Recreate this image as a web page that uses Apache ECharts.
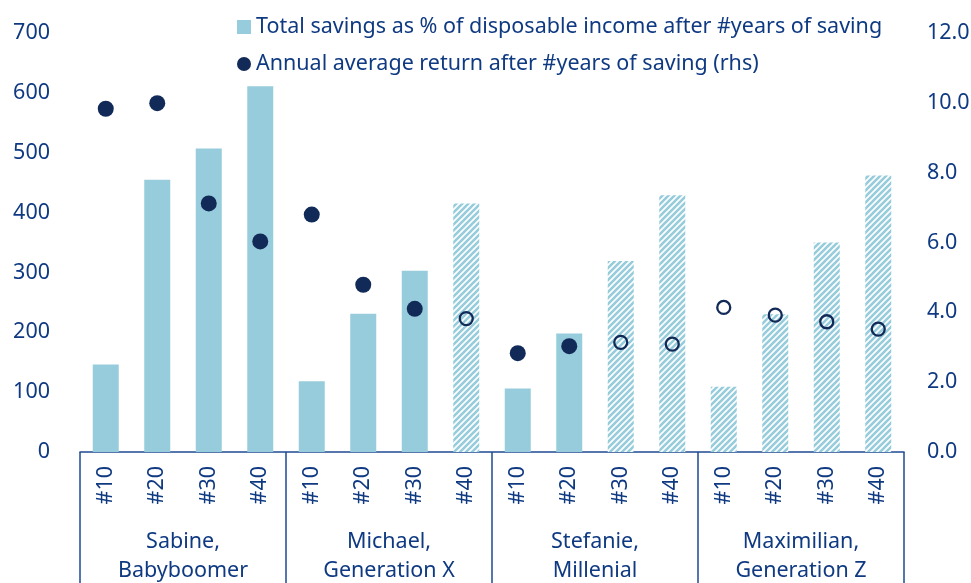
<!DOCTYPE html>
<html><head><meta charset="utf-8">
<script src="https://cdn.jsdelivr.net/npm/echarts@6/dist/echarts.min.js"></script>
<style>html,body{margin:0;padding:0;background:#fff}#c{width:971px;height:583px}</style>
</head><body><div id="c"></div>
<script>
const categories = ['#10','#20','#30','#40','#10','#20','#30','#40','#10','#20','#30','#40','#10','#20','#30','#40'];
const groups = ['Sabine,\nBabyboomer','Michael,\nGeneration X','Stefanie,\nMillenial','Maximilian,\nGeneration Z'];
const savings = [146,455,507,611, 118,231,303,415, 106,198,319,429, 109,230,350,462];
const returns = [9.83,9.99,7.12,6.03, 6.80,4.79,4.10,3.82, 2.83,3.03,3.14,3.09, 4.14,3.92,3.73,3.52];
const projected = [0,0,0,0, 0,0,0,1, 0,0,1,1, 1,1,1,1];
const barName = 'Total savings as % of disposable income after #years of saving';
const dotName = 'Annual average return after #years of saving (rhs)';

const BAR = '#96CCDB', NAVY = '#122A58', TXT = '#0F3A82', AXIS = '#1E4B93';
const FONT = 'Noto Sans';
const FS = 21.5;

// hatch pattern
const tile = document.createElement('canvas');
tile.width = 6; tile.height = 6;
const g = tile.getContext('2d');
g.fillStyle = '#fff'; g.fillRect(0,0,6,6);
g.strokeStyle = BAR; g.lineWidth = 2.6;
g.beginPath();
g.moveTo(-1,7); g.lineTo(7,-1);
g.moveTo(-4,4); g.lineTo(4,-4);
g.moveTo(2,10); g.lineTo(10,2);
g.stroke();
const hatch = {image: tile, repeat: 'repeat'};

const barData = savings.map((v,i)=> projected[i] ? {value:v, itemStyle:{color:hatch}} : v);
const dotData = returns.map((v,i)=> projected[i]
  ? {value:v, symbolSize:13, itemStyle:{color:'rgba(0,0,0,0)', borderColor:NAVY, borderWidth:2.3, opacity:1}}
  : {value:v, symbolSize:16});

const chart = echarts.init(document.getElementById('c'), null, {renderer:'canvas'});
chart.setOption({
  animation:false,
  textStyle:{fontFamily:FONT},
  grid:{left:80, right:67, top:33, bottom:131, containLabel:false, outerBoundsMode:'none'},
  legend:{
    orient:'vertical', left:232, top:10, itemGap:13, itemWidth:14, itemHeight:14,
    textStyle:{color:TXT, fontSize:FS, fontFamily:FONT, lineHeight:24},
    data:[{name:barName, icon:'rect'},{name:dotName, icon:'circle'}]
  },
  xAxis:[
    {type:'category', data:categories, position:'bottom',
     axisLine:{show:true, lineStyle:{color:AXIS, width:1.5}},
     axisTick:{show:false},
     axisLabel:{rotate:90, color:TXT, fontSize:FS, margin:14, interval:0, fontFamily:FONT}},
    {type:'category', data:groups, position:'bottom', offset:0,
     axisLine:{show:false},
     axisTick:{show:true, length:160, interval:0, lineStyle:{color:AXIS, width:1.5}},
     axisLabel:{color:TXT, fontSize:FS, margin:75, lineHeight:29, interval:0, fontFamily:FONT}}
  ],
  yAxis:[
    {type:'value', min:0, max:700, interval:100, position:'left',
     axisLine:{show:false}, axisTick:{show:false}, splitLine:{show:false},
     axisLabel:{color:TXT, fontSize:FS, margin:30, fontFamily:FONT}},
    {type:'value', min:0, max:12, interval:2, position:'right',
     axisLine:{show:false}, axisTick:{show:false}, splitLine:{show:false},
     axisLabel:{color:TXT, fontSize:FS, margin:23, fontFamily:FONT, formatter:v=>v.toFixed(1)}}
  ],
  series:[
    {name:barName, type:'bar', xAxisIndex:0, yAxisIndex:0, data:barData, barWidth:26,
     itemStyle:{color:BAR}},
    {name:dotName, type:'scatter', xAxisIndex:0, yAxisIndex:1, data:dotData, symbol:'circle',
     itemStyle:{color:NAVY, opacity:1}, z:5}
  ]
});
</script></body></html>
